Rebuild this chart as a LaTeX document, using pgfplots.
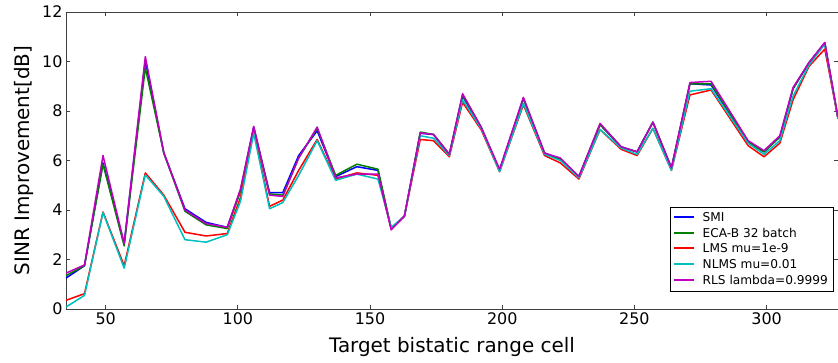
\documentclass[border=0pt]{standalone}
\usepackage{pgfplots}
\pgfplotsset{compat=1.18}
\usepackage{pgfplotstable}
\usepackage{fontspec}
\setmainfont{DejaVu Sans}
\pgfplotstableread{
x smi eca lms nlms rls
35 1.25 1.35 0.35 0.08 1.45
42 1.75 1.75 0.62 0.55 1.78
49 5.9 5.85 3.92 3.9 6.2
57 2.65 2.55 1.75 1.65 2.65
65 10.05 9.75 5.5 5.42 10.2
72 6.3 6.3 4.6 4.55 6.32
80 4.05 3.95 3.1 2.8 4.0
88 3.5 3.4 2.95 2.7 3.45
96 3.3 3.25 3.05 3.0 3.3
101 4.8 4.75 4.5 4.35 4.85
106 7.35 7.3 7.2 7.1 7.38
112 4.7 4.65 4.15 4.05 4.6
117 4.7 4.6 4.4 4.3 4.55
123 6.2 6.1 5.6 5.4 6.1
130 7.2 7.3 6.85 6.8 7.35
137 5.35 5.4 5.25 5.2 5.3
145 5.75 5.85 5.5 5.45 5.45
153 5.6 5.65 5.4 5.25 5.45
158 3.25 3.25 3.25 3.3 3.2
163 3.75 3.75 3.75 3.75 3.75
169 7.1 7.15 6.85 7.0 7.12
174 7.05 7.05 6.8 6.9 7.05
180 6.25 6.25 6.15 6.2 6.25
185 8.6 8.65 8.35 8.45 8.7
192 7.35 7.35 7.25 7.3 7.35
199 5.6 5.6 5.55 5.55 5.65
208 8.5 8.5 8.25 8.3 8.55
216 6.3 6.3 6.2 6.25 6.3
222 6.05 6.05 5.9 6.0 6.1
229 5.35 5.35 5.25 5.3 5.35
237 7.45 7.45 7.25 7.25 7.5
245 6.55 6.55 6.45 6.5 6.55
251 6.35 6.35 6.2 6.25 6.35
257 7.55 7.55 7.3 7.3 7.55
264 5.7 5.7 5.6 5.6 5.7
271 9.1 9.1 8.65 8.8 9.15
279 9.05 9.1 8.85 8.9 9.2
293 6.75 6.75 6.6 6.7 6.8
299 6.35 6.35 6.15 6.25 6.4
305 6.95 6.95 6.7 6.8 7.0
310 8.9 8.9 8.45 8.6 8.95
316 9.95 9.95 9.8 9.85 9.95
322 10.75 10.75 10.5 10.7 10.77
327 7.7 7.7 7.7 7.7 7.75
}\data
\definecolor{mgreen}{rgb}{0,0.5,0}
\definecolor{mcyan}{rgb}{0,0.75,0.75}
\definecolor{mmag}{rgb}{0.75,0,0.75}
\begin{document}
\begin{tikzpicture}
\begin{axis}[
  scale only axis,
  width=772bp, height=297bp,
  xmin=35, xmax=327, ymin=0, ymax=12,
  xtick={50,100,150,200,250,300},
  ytick={0,2,4,6,8,10,12},
  tick align=inside,
  major tick length=4bp,
  axis line style={black!75, line width=0.9bp},
  every tick/.style={black!75, line width=0.8bp},
  tick label style={font=\fontsize{16}{18}\selectfont},
  /pgf/number format/assume math mode=true,
  xlabel={Target bistatic range cell},
  ylabel={SINR Improvement[dB]},
  label style={font=\fontsize{20}{22}\selectfont},
  xlabel style={yshift=-6bp},
  ylabel style={yshift=2bp},
  legend style={at={(0.9935,0.0606)}, anchor=south east,
    font=\fontsize{12.2}{14.5}\selectfont,
    row sep=1.2bp, inner sep=3bp, cells={anchor=west}},
  legend image code/.code={\draw[#1, line width=2bp] (0bp,0.5bp) -- (20bp,0.5bp); \path (26bp,0bp);},
  every axis plot/.append style={line width=1.5bp, line join=round},
]
\addplot[blue] table[x=x,y=smi]{\data};
\addlegendentry{SMI}
\addplot[mgreen] table[x=x,y=eca]{\data};
\addlegendentry{ECA-B 32 batch}
\addplot[red] table[x=x,y=lms]{\data};
\addlegendentry{LMS mu=1e-9}
\addplot[mcyan] table[x=x,y=nlms]{\data};
\addlegendentry{NLMS mu=0.01}
\addplot[mmag] table[x=x,y=rls]{\data};
\addlegendentry{RLS lambda=0.9999}
\end{axis}
\pgfresetboundingbox
\path ([shift={(-66bp,-54bp)}]current axis.south west) rectangle ([shift={(0bp,12bp)}]current axis.north east);
\end{tikzpicture}
\end{document}
